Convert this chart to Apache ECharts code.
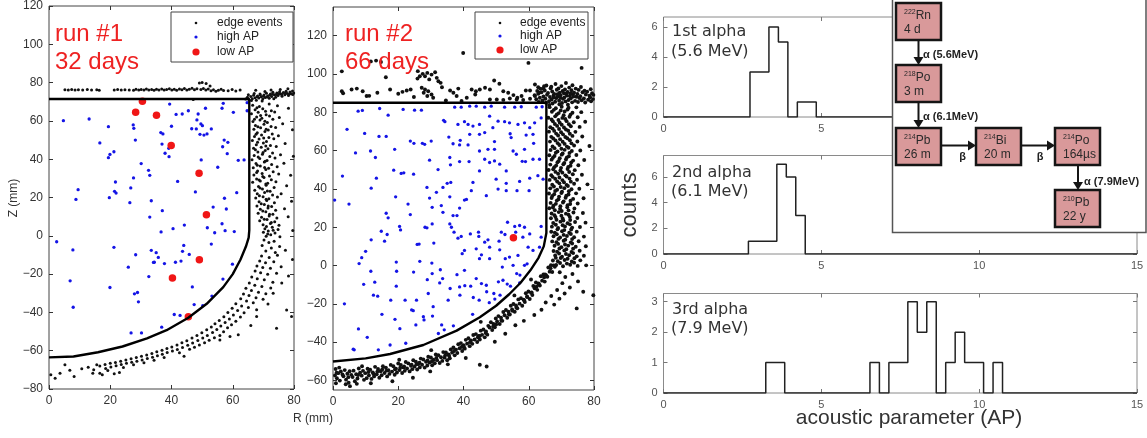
<!DOCTYPE html>
<html><head><meta charset="utf-8">
<script src="https://cdn.jsdelivr.net/npm/echarts@6/dist/echarts.min.js"></script>
<style>html,body{margin:0;padding:0;background:#fff}#c{width:1147px;height:438px}</style>
</head><body><div id="c"></div>
<script>
// ---------------- DATA ----------------
const rTicks = [0, 20, 40, 60, 80];
const z1Ticks = [-80, -60, -40, -20, 0, 20, 40, 60, 80, 100, 120];
const z2Ticks = [-60, -40, -20, 0, 20, 40, 60, 80, 100, 120];
const apTicks = [0, 5, 10, 15];
const h1Ticks = [0, 2, 4, 6];
const h2Ticks = [0, 2, 4, 6];
const h3Ticks = [0, 1, 2, 3];

// run #1 (R, Z) pairs
const edge1 = [
5.2,76.3, 6.3,76.1, 7.4,76.4, 8.5,76.2, 9.6,76.3, 11.0,76.1, 12.5,76.4, 13.9,76.2, 15.6,76.3, 16.4,76.0, 21.3,76.2, 22.4,76.4, 23.6,76.1, 24.8,76.3, 26.2,76.2, 27.6,76.0, 28.4,76.5, 29.3,76.2, 30.1,76.4, 31.0,76.1, 31.8,76.6, 32.6,76.2, 33.5,76.4, 34.3,76.0, 35.1,76.5, 35.9,76.2, 36.8,76.7, 37.6,76.1, 38.4,76.4, 39.3,76.8, 40.1,76.2, 40.9,76.5, 41.7,76.0, 42.6,76.6, 43.4,76.3, 44.2,76.9, 45.0,76.1, 45.8,76.5, 46.7,77.0, 47.5,76.3, 48.3,76.8, 49.1,79.8, 50.0,80.0, 51.3,79.5, 52.6,78.2, 49.6,76.4, 50.4,76.9, 51.2,76.2, 52.0,76.6, 52.9,75.8, 53.7,76.3, 54.5,75.5, 55.3,76.0, 56.2,76.5, 57.0,75.9, 58.5,75.7, 59.8,76.4, 61.0,75.6, 62.4,76.1, 47.1,71.2,
64.2,71.5, 64.8,72.3, 65.3,71.0, 65.9,72.8, 66.4,71.6, 66.8,73.4, 67.3,72.1, 67.7,70.8, 68.1,73.0, 68.5,71.9, 68.9,74.1, 69.3,72.6, 69.8,71.4, 70.2,73.5, 70.6,72.2, 71.0,74.4, 71.4,73.0, 71.9,71.8, 72.3,74.0, 72.7,72.8, 73.1,75.0, 73.6,73.6, 74.0,72.4, 74.4,74.6, 74.8,73.3, 75.3,75.2, 75.7,74.0, 76.1,72.9, 76.5,74.8, 77.0,73.7, 77.4,75.5, 77.8,74.3, 78.2,73.2, 78.7,75.1, 79.1,74.2, 79.5,75.6, 79.9,74.6, 65.1,73.6, 66.1,70.6, 67.0,74.3, 68.0,72.6, 69.0,73.5, 70.0,72.9, 71.2,72.5, 72.0,73.4, 73.0,73.9, 74.2,73.8, 75.0,74.2, 76.0,73.9, 77.2,74.6, 78.5,74.0, 79.6,73.8, 67.5,76.0, 70.5,75.4, 72.5,76.2, 75.5,76.4, 78.0,76.8, 69.6,70.4, 73.4,71.6,
66.5,68.2, 68.7,67.5, 71.9,68.8, 74.6,67.9, 67.3,65.8, 69.8,66.4, 72.6,65.3, 78.2,66.6, 66.1,63.7, 68.3,64.5, 70.9,63.2, 73.7,64.6, 67.8,62.1, 69.5,61.4, 72.0,62.6, 75.2,61.8, 66.6,59.7, 68.9,60.5, 71.3,59.2, 73.1,60.8, 67.4,57.6, 70.2,58.3, 72.5,57.1, 76.3,58.5, 66.9,55.7, 69.1,56.4, 71.6,55.2, 74.0,56.6, 79.5,55.4, 68.0,53.8, 70.5,54.5, 72.9,53.2, 67.1,51.9, 69.4,52.6, 71.8,51.3, 74.9,52.2, 66.4,49.8, 68.6,50.5, 71.0,49.3, 73.4,50.7, 67.7,47.6, 70.0,48.4, 72.3,47.1, 77.1,48.2, 66.8,45.7, 69.3,46.3, 71.5,45.4, 74.2,46.6, 68.2,43.8, 70.6,44.5, 73.0,43.3, 67.0,41.9, 69.7,42.6, 72.1,41.4, 75.6,42.3, 79.8,41.5, 66.3,39.7, 68.8,40.4, 71.2,39.3, 73.8,40.6, 67.6,37.8, 70.3,38.5, 72.7,37.2, 76.7,37.9, 66.7,35.6, 69.0,36.4, 71.7,35.3, 74.5,36.1, 68.1,33.9, 70.8,34.6, 73.2,33.4, 66.9,31.8, 69.6,32.5, 72.0,31.2, 75.0,32.3, 78.9,31.6, 67.8,29.7, 70.2,30.4, 72.6,29.3, 66.5,27.9, 69.0,28.6, 71.4,27.4, 74.1,28.2, 68.4,25.7, 70.9,26.4, 73.5,25.2, 77.6,26.1, 67.2,23.8, 69.7,24.5, 72.2,23.3, 68.0,21.9, 70.4,22.6, 73.0,21.3, 75.8,22.0, 67.5,19.7, 69.9,20.4, 71.8,19.3, 74.6,20.2, 68.6,17.8, 71.1,18.4, 73.6,17.2, 79.2,18.0, 67.9,15.6, 70.3,16.4, 72.7,15.3, 69.0,13.9, 71.5,14.5, 74.0,13.3, 76.9,14.1, 68.3,11.8, 70.8,12.5, 73.1,11.3, 69.4,9.7, 71.9,10.4, 74.4,9.3, 78.1,10.0, 68.8,7.9, 71.2,8.5, 73.7,7.4, 69.9,5.8, 72.3,6.4, 75.1,5.5, 70.5,3.7, 72.9,4.4, 74.8,3.3, 70.0,1.9, 71.6,2.5, 73.8,1.4, 79.6,2.8, 70.9,-0.3, 72.4,0.5, 75.4,-0.5,
67.9,66.9, 70.7,65.1, 69.1,62.8, 67.1,60.9, 70.5,59.8, 68.2,57.0, 70.9,55.6, 67.6,53.0, 70.1,51.1, 68.1,48.8, 70.8,46.9, 67.4,44.9, 69.9,43.5, 68.3,41.2, 70.6,38.9, 68.0,36.9, 70.4,35.7, 67.8,33.1, 69.8,31.0, 68.6,29.1, 70.8,27.0, 68.9,25.0, 71.3,23.4, 68.7,20.9, 70.9,19.1, 69.3,16.8, 71.6,15.5, 69.8,12.9, 72.0,11.2, 70.3,8.7, 72.6,7.0, 71.0,4.8, 73.2,2.9, 71.4,0.9,
70.2,-2.2, 71.8,-3.5, 73.5,-2.8, 69.6,-5.1, 72.6,-6.4, 75.3,-5.6, 70.8,-8.0, 73.9,-8.7, 77.2,-7.5, 69.4,-10.6, 71.9,-11.3, 74.6,-10.2, 68.8,-13.2, 70.7,-14.1, 73.4,-13.6, 79.5,-12.4, 67.9,-15.8, 69.8,-16.5, 72.3,-17.0, 75.8,-16.2, 67.3,-18.4, 69.1,-19.3, 71.4,-20.1, 74.3,-19.5, 78.2,-21.0,
66.2,-21.5, 68.0,-22.4, 70.3,-23.0, 73.1,-24.2, 76.0,-24.7, 65.4,-24.6, 67.2,-25.8, 69.5,-26.5, 72.4,-27.3, 64.3,-27.4, 66.1,-28.6, 68.4,-29.5, 70.8,-30.3, 73.2,-30.0, 63.5,-30.4, 65.3,-31.2, 67.6,-32.3, 69.9,-33.1, 62.6,-32.9, 64.5,-34.1, 66.7,-35.0, 71.5,-35.6, 77.6,-38.7, 79.2,-42.2,
61.0,-35.5, 62.9,-36.6, 65.1,-37.4, 67.8,-38.6, 59.8,-37.8, 61.6,-39.0, 63.7,-40.2, 58.4,-40.1, 60.2,-41.3, 62.5,-42.4, 67.8,-42.2, 57.1,-42.3, 58.9,-43.5, 61.0,-44.6, 55.6,-44.2, 57.5,-45.3, 59.6,-46.5, 65.9,-46.8, 54.2,-45.9, 56.1,-47.1, 58.3,-48.0, 74.3,-48.3, 53.0,-47.6, 54.8,-48.9, 57.0,-50.1, 61.8,-51.7, 59.1,-52.6,
51.5,-49.1, 53.4,-50.5, 55.8,-52.0, 49.9,-50.6, 51.7,-52.0, 54.0,-53.3, 48.3,-52.1, 50.2,-53.4, 52.3,-54.6, 55.8,-54.4, 46.7,-53.4, 48.6,-54.7, 50.8,-55.8, 45.0,-54.8, 46.9,-56.0, 49.1,-57.0, 43.4,-55.9, 45.3,-57.1, 47.5,-58.2, 41.8,-57.0, 43.6,-58.3, 45.9,-59.3, 44.1,-62.9, 40.1,-58.1, 41.9,-59.4, 38.5,-58.9, 40.3,-60.2, 42.6,-61.1,
36.9,-59.7, 38.6,-61.0, 35.2,-60.6, 37.0,-61.8, 33.6,-61.4, 35.4,-62.7, 37.6,-63.6, 31.9,-62.2, 33.8,-63.4, 30.2,-62.9, 32.1,-64.1, 34.3,-65.0, 28.5,-63.6, 30.4,-64.8, 26.8,-64.2, 28.7,-65.5, 31.0,-66.3, 25.1,-64.9, 27.0,-66.0, 23.4,-65.5, 25.3,-66.6, 27.6,-67.4, 21.7,-66.1, 23.6,-67.2,
20.0,-66.6, 21.9,-67.9, 24.3,-68.8, 18.3,-67.2, 20.2,-68.5, 23.0,-71.4, 16.6,-68.0, 18.5,-69.3, 15.6,-67.4, 16.6,-71.8, 14.3,-71.8, 12.8,-68.6, 14.6,-70.0, 17.4,-72.5, 10.7,-69.4, 8.2,-73.5, 5.2,-67.4, 3.6,-71.8, 2.0,-74.4, 0.6,-72.6, 6.8,-70.2, 19.2,-70.4, 21.3,-72.0
];
const high1 = [
39.4,68.8, 56.9,69.2, 64.7,69.5, 4.7,60.1, 13.1,61.0, 19.4,57.0, 27.5,57.9, 27.7,56.1, 28.2,50.0, 16.6,48.5, 21.2,43.9, 19.9,42.5, 19.4,40.8, 36.5,53.9, 37.2,53.2, 40.0,57.2, 41.5,63.4, 43.5,63.6, 45.5,65.3, 48.7,63.6, 51.1,66.6, 48.3,60.5, 49.6,58.4, 46.6,55.9, 48.1,55.8, 50.1,57.5, 53.0,55.8, 51.6,53.2, 49.3,53.0, 50.6,52.6, 56.5,66.6, 60.2,64.5, 64.7,65.3, 57.2,50.0, 58.4,48.8, 56.7,46.5, 58.2,42.9, 36.9,47.9, 39.1,45.7, 37.9,43.1, 39.2,41.3, 30.1,37.7, 32.5,34.2, 32.9,31.6, 49.7,39.6, 55.1,35.8, 61.8,39.4, 63.7,39.6, 42.0,28.4, 21.7,28.1, 27.6,30.2, 9.5,24.1, 21.4,23.2, 21.9,22.3, 26.7,25.0, 8.8,19.0, 19.7,19.9, 26.4,17.3, 33.4,18.3, 47.8,22.9, 57.3,19.6, 61.3,22.5, 37.0,13.1, 32.9,9.8, 53.6,15.0, 57.9,14.0, 2.5,-3.1, 7.8,-7.4, 36.6,2.0, 40.5,3.7, 44.2,5.6, 51.7,4.2, 54.1,1.6, 56.5,6.3, 57.5,2.7, 60.5,2.2, 21.2,-6.0, 28.3,-9.9, 33.4,-7.6, 35.0,-8.8, 44.0,-5.0, 43.6,-8.1, 45.8,-9.7, 53.0,-4.3,
6.9,-23.5, 7.9,-37.3, 19.9,-27.0, 25.9,-16.4, 32.6,-21.3, 27.9,-30.3, 28.9,-29.6, 29.2,-34.5, 34.1,-13.9, 34.4,-13.8, 35.7,-11.3, 37.7,-14.5, 41.3,-13.8, 43.1,-13.2, 46.8,-26.7, 47.4,-35.9, 50.2,-36.5, 56.8,-22.6, 59.9,-14.8, 53.2,-31.5, 40.9,-41.1, 42.8,-41.6, 36.8,-47.7, 26.8,-50.7, 30.2,-50.7
];
const low1 = [30.5,70.2, 28.3,64.5, 35.1,62.9, 39.9,47.1, 49.0,32.6, 51.4,11.0, 49.1,-12.5, 40.3,-22.0, 45.5,-42.3];
const fid1 = [0,-63.5, 8,-63.0, 16,-60.8, 24,-57.8, 32,-53.6, 38.4,-49.3, 45.5,-42.8, 51.5,-35.5, 56.9,-26.8, 60,-20, 62.5,-12.5, 64.3,-5.6, 65.2,-1, 65.4,3, 65.4,71.4, 0,71.4];

// run #2 (R, Z) pairs
const edge2 = [
2.7,101.4, 2.7,91.0, 3.1,90.0, 5.7,91.9, 7.3,92.4, 9.1,91.0, 10.3,88.5, 11.1,88.6, 13.6,90.2, 16.2,98.3, 17.5,91.9, 20.0,89.7, 21.3,90.7, 22.6,91.4, 23.8,91.9, 25.9,97.6, 26.6,98.8, 27.5,100.1, 28.2,98.8, 28.9,100.6, 30.2,99.7, 31.3,100.9, 31.8,98.0, 32.3,96.2, 33.0,95.4, 33.4,93.1, 27.2,92.8, 28.2,91.9, 29.2,91.0, 27.8,90.2, 30.2,89.3, 30.7,87.6, 28.9,88.5, 11.6,106.6, 13.2,107.0, 14.7,106.3, 39.9,111.0, 59.9,105.8, 76.2,103.2, 35.9,91.4, 36.9,90.2, 37.9,88.5, 39.4,85.9, 42.5,91.9, 43.8,91.0, 45.0,91.9, 46.6,92.8, 48.1,91.9, 49.4,96.6, 51.0,94.9, 52.2,91.0, 53.7,90.2, 55.3,89.0, 56.5,87.6, 57.8,88.5, 59.1,91.4, 60.4,91.4, 61.9,94.5, 62.9,93.1, 64.5,92.4, 63.2,90.2, 61.9,88.5, 48.1,86.7, 50.2,86.7, 52.2,86.5, 54.2,87.2, 56.3,86.7, 58.3,86.4, 60.4,87.1, 38.4,92.4, 41.0,87.6, 43.6,89.3, 26.0,101.5, 29.5,97.2, 24.8,88.0, 34.6,86.2,
62.3,86.8, 61.8,88.9, 62.6,91.2, 63.1,85.4, 63.4,87.6, 62.9,89.7, 63.6,92.3, 64.2,86.2, 64.5,88.3, 63.9,90.5, 64.7,93.6, 65.3,85.0, 65.1,87.1, 65.6,89.2, 64.9,91.4, 65.4,94.0, 66.2,85.8, 66.5,88.0, 65.9,90.1, 66.7,92.6, 67.3,84.6, 67.0,86.7, 67.6,88.8, 67.2,90.9, 66.9,93.4, 68.1,85.5, 68.4,87.4, 67.8,89.6, 68.6,91.8, 68.2,94.8, 69.3,86.1, 68.9,88.2, 69.5,90.3, 69.1,92.5, 70.2,84.9, 70.5,87.0, 69.8,89.0, 70.4,91.1, 70.0,93.7, 71.3,85.7, 70.9,87.8, 71.5,89.9, 71.1,92.0, 71.4,95.3, 72.2,86.4, 72.6,88.5, 71.9,90.6, 72.4,92.9, 73.3,85.2, 72.9,87.3, 73.5,89.4, 73.1,91.5, 73.4,94.1, 74.2,86.0, 74.6,88.1, 73.9,90.2, 74.4,92.4, 75.1,85.4, 75.5,87.5, 74.9,89.6, 75.3,91.7, 76.2,86.3, 75.8,88.4, 76.5,90.5, 76.0,93.2, 77.3,85.1, 76.9,87.2, 77.5,89.3, 77.1,91.3, 78.2,86.6, 78.6,88.7, 77.9,90.8, 79.1,85.8, 78.8,87.9, 79.4,90.0, 79.0,92.1, 79.7,86.9, 79.8,89.1, 67.7,87.9, 69.7,87.6, 71.7,88.7, 73.7,88.2, 68.8,89.4, 70.8,90.0, 72.8,89.8, 69.4,84.2, 72.0,84.0, 66.3,83.8,
66.4,82.7, 68.3,82.1, 70.1,82.9, 72.2,82.4, 74.6,82.6, 67.1,80.3, 69.2,79.6, 71.0,80.4, 73.4,79.8, 76.1,80.1, 66.0,77.2, 68.1,77.9, 70.3,77.1, 72.5,77.7, 75.0,77.4, 67.4,75.3, 69.5,74.6, 71.6,75.4, 73.8,74.8, 77.3,75.1, 66.6,72.2, 68.7,72.9, 70.8,72.1, 72.9,72.7, 75.6,72.4, 67.8,70.3, 69.9,69.6, 72.1,70.4, 74.3,69.8, 66.2,69.9, 66.9,67.2, 69.0,67.9, 71.2,67.1, 73.4,67.7, 76.4,67.4, 68.2,65.3, 70.4,64.6, 72.6,65.4, 74.9,64.8, 66.5,64.7, 67.3,62.2, 69.4,62.9, 71.7,62.1, 73.9,62.7, 78.6,62.4, 66.7,60.3, 68.8,59.6, 71.0,60.4, 73.2,59.8, 75.8,60.1, 67.9,57.2, 70.1,57.9, 72.3,57.1, 74.6,57.7, 66.3,57.6, 67.0,55.3, 69.2,54.6, 71.4,55.4, 73.6,54.8, 77.0,55.1, 68.4,52.2, 70.6,52.9, 72.8,52.1, 66.6,52.7, 75.2,52.4, 67.5,50.3, 69.7,49.6, 71.9,50.4, 74.1,49.8, 66.1,49.9, 66.9,47.2, 69.0,47.9, 71.2,47.1, 73.5,47.7, 76.3,47.4, 68.1,45.3, 70.3,44.6, 72.5,45.4, 74.8,44.8, 66.4,44.7, 67.2,42.2, 69.4,42.9, 71.6,42.1, 73.9,42.7, 78.0,42.4, 66.6,40.3, 68.7,39.6, 70.9,40.4, 73.1,39.8, 75.5,40.1, 67.8,37.2, 70.0,37.9, 72.2,37.1, 74.5,37.7, 66.2,37.6, 67.0,35.3, 69.1,34.6, 71.3,35.4, 73.6,34.8, 76.8,35.1, 68.3,32.2, 70.5,32.9, 72.7,32.1, 66.7,32.7, 75.0,32.4, 67.4,30.3, 69.6,29.6, 71.8,30.4, 74.0,29.8, 66.3,29.9, 67.0,27.2, 69.2,27.9, 71.4,27.1, 73.7,27.7, 76.6,27.4, 68.2,25.3, 70.4,24.6, 72.6,25.4, 74.9,24.8, 66.8,24.7, 67.5,22.2, 69.7,22.9, 71.9,22.1, 74.2,22.7, 77.4,22.4, 67.1,20.3, 69.0,19.6, 71.1,20.4, 73.3,19.8, 75.7,20.1, 68.0,17.2, 70.2,17.9, 72.4,17.1, 74.7,17.7, 66.9,17.6, 67.6,15.3, 69.6,14.6, 71.7,15.4, 73.9,14.8, 76.9,15.1, 68.5,12.2, 70.7,12.9, 72.9,12.1, 75.3,12.7, 67.2,12.6, 67.9,10.3, 70.0,9.6, 72.1,10.4, 74.4,9.8, 77.5,10.1, 68.7,7.2, 70.9,7.9, 73.1,7.1, 75.6,7.7, 67.6,7.6, 68.1,5.3, 70.2,4.6, 72.4,5.4, 74.7,4.8, 76.9,5.1, 68.9,2.2, 71.0,2.9, 73.2,2.1, 75.8,2.7, 67.4,2.6, 68.4,0.3, 70.5,-0.4, 72.7,0.4, 75.0,-0.2, 77.6,0.1,
67.7,81.3, 69.8,81.0, 71.9,81.5, 68.6,78.9, 70.7,78.5, 72.8,78.8, 67.0,76.3, 69.1,76.0, 71.2,76.5, 68.0,73.9, 70.1,73.5, 72.3,73.8, 69.3,71.3, 71.4,71.0, 67.3,71.5, 68.4,68.9, 70.5,68.5, 72.6,68.8, 67.5,66.3, 69.6,66.0, 71.8,66.5, 68.9,63.9, 71.0,63.5, 73.1,63.8, 67.9,61.3, 70.0,61.0, 72.2,61.5, 68.3,58.9, 70.4,58.5, 72.5,58.8, 67.4,56.3, 69.5,56.0, 71.7,56.5, 68.8,53.9, 70.9,53.5, 73.0,53.8, 67.8,51.3, 69.9,51.0, 72.1,51.5, 68.2,48.9, 70.3,48.5, 72.4,48.8, 67.3,46.3, 69.4,46.0, 71.6,46.5, 68.7,43.9, 70.8,43.5, 72.9,43.8, 67.7,41.3, 69.8,41.0, 72.0,41.5, 68.1,38.9, 70.2,38.5, 72.3,38.8, 67.2,36.3, 69.3,36.0, 71.5,36.5, 68.6,33.9, 70.7,33.5, 72.8,33.8, 67.6,31.3, 69.7,31.0, 71.9,31.5, 68.0,28.9, 70.1,28.5, 72.2,28.8, 67.9,26.3, 70.0,26.0, 72.2,26.5, 68.5,23.9, 70.6,23.5, 72.7,23.8, 68.3,21.3, 70.4,21.0, 72.6,21.5, 68.8,18.9, 70.9,18.5, 73.0,18.8, 68.6,16.3, 70.7,16.0, 72.9,16.5, 69.1,13.9, 71.2,13.5, 73.3,13.8, 69.0,11.3, 71.1,11.0, 73.3,11.5, 69.4,8.9, 71.5,8.5, 73.6,8.8, 69.3,6.3, 71.4,6.0, 73.6,6.5, 69.8,3.9, 71.9,3.5, 74.0,3.8, 69.6,1.3, 71.7,1.0, 73.9,1.5,
0.8,-54.0, 1.2,-58.9, 1.6,-56.2, 2.1,-60.1, 2.4,-55.3, 0.6,-57.4, 1.9,-53.3, 3.2,-57.8, 3.6,-54.6, 4.0,-59.6, 4.4,-56.5, 4.8,-61.2, 5.1,-55.2, 3.9,-62.0, 6.0,-58.2, 6.3,-54.9, 6.7,-60.4, 7.1,-56.8, 7.5,-59.0, 7.9,-53.8, 7.3,-61.8, 8.8,-57.5, 9.2,-55.0, 9.5,-59.7, 9.9,-56.2, 10.3,-58.8, 10.6,-53.9, 11.0,-57.4, 11.4,-54.4, 11.8,-59.2, 12.2,-55.8, 12.6,-57.9, 12.9,-52.9, 13.4,-56.8, 13.8,-54.0, 14.2,-58.6, 14.6,-55.2, 14.9,-57.3, 15.3,-52.6, 15.8,-56.1, 16.2,-53.3, 16.6,-57.9, 17.0,-54.7, 17.3,-56.6, 17.7,-51.9, 18.1,-55.4, 18.5,-52.6, 18.9,-57.0, 19.3,-53.9, 19.6,-55.9, 20.0,-51.2, 20.4,-54.6, 20.8,-51.9, 21.2,-56.1, 21.6,-53.2, 22.0,-55.0, 22.3,-50.4, 22.7,-53.8, 23.1,-51.1, 23.5,-55.3, 23.9,-52.3, 24.3,-54.1, 24.6,-49.5, 25.0,-52.8, 25.4,-50.2, 25.8,-54.3, 26.2,-51.4, 26.6,-53.2, 26.9,-48.6, 27.3,-51.8, 27.7,-49.1, 28.1,-53.3, 28.5,-50.3, 28.9,-52.2, 29.2,-47.6, 29.6,-50.7, 30.0,-48.0, 30.4,-52.1, 30.8,-49.2, 31.2,-51.0, 31.5,-46.5, 31.9,-49.4, 32.3,-46.8, 32.7,-50.9, 33.1,-47.9, 33.5,-49.8, 33.8,-45.2, 34.2,-48.1, 34.6,-45.4, 35.0,-49.5, 35.4,-46.5, 35.8,-48.4, 36.1,-43.8,
36.5,-45.5, 36.9,-42.8, 37.3,-46.9, 37.7,-43.9, 38.1,-45.7, 38.4,-41.1, 38.8,-43.2, 39.2,-40.5, 39.6,-44.6, 40.0,-41.6, 40.4,-43.4, 40.7,-38.8, 41.1,-40.8, 41.5,-38.0, 41.9,-42.1, 42.3,-39.1, 42.7,-40.9, 43.0,-36.3, 43.4,-38.6, 43.8,-35.8, 44.2,-39.9, 44.6,-36.8, 45.0,-38.6, 45.3,-34.0, 45.7,-36.2, 46.1,-33.4, 46.5,-37.5, 46.9,-34.4, 47.3,-36.1, 47.6,-31.5, 48.0,-32.4, 48.4,-29.6, 48.8,-33.7, 49.2,-30.5, 49.6,-32.2, 49.9,-27.6, 50.3,-29.2, 50.7,-26.4, 51.1,-30.5, 51.5,-27.3, 51.9,-28.9, 52.2,-24.3, 52.6,-26.0, 53.0,-23.2, 53.4,-27.3, 53.8,-24.1, 54.2,-25.6, 54.5,-21.0, 54.9,-22.9, 55.3,-20.1, 55.7,-24.1, 56.1,-20.9, 56.5,-22.3, 56.8,-17.7, 57.2,-19.9, 57.6,-17.1, 58.0,-21.0, 58.4,-17.8, 58.8,-19.1, 59.1,-14.5, 59.5,-16.5, 59.9,-13.6, 60.3,-17.5, 60.7,-14.2, 61.1,-15.4, 61.4,-10.7, 61.8,-11.9, 62.2,-8.9, 62.6,-12.7, 63.0,-9.3, 63.4,-10.4, 63.7,-5.6, 64.1,-7.9, 64.5,-4.7, 64.9,-8.4, 65.3,-5.0, 65.7,-5.9, 66.0,-1.0, 66.4,-3.2, 66.8,0.2, 67.2,-3.4, 67.6,0.1, 68.0,-0.7, 68.3,4.0,
69.5,-3.5, 71.2,-6.0, 73.4,-4.4, 70.3,-9.2, 72.6,-11.5, 75.1,-8.3, 68.7,-12.8, 71.0,-14.6, 74.7,-22.4, 76.7,-13.7, 79.8,-15.5, 69.4,-17.3, 66.9,-15.9, 67.8,-20.4, 65.2,-19.3, 63.9,-23.1, 61.7,-25.8, 45.0,-51.8, 47.1,-52.7, 58.5,-28.9, 55.9,-31.2, 52.8,-35.6, 49.6,-39.8, 40.7,-48.3, 35.2,-51.6, 29.8,-55.3, 24.5,-58.6, 18.2,-60.4, 11.6,-61.5, 5.2,-63.0, 0.9,-61.5, 30.1,-44.2, 20.3,-49.2, 8.9,-52.6, 45.3,-29.4, 55.6,-15.6, 60.7,-7.3,
2.9,-56.9, 5.6,-57.1, 8.3,-56.0, 10.9,-55.6, 13.6,-55.4, 16.4,-54.9, 19.0,-54.2, 21.8,-52.7, 24.1,-51.8, 26.5,-50.7, 29.0,-49.6, 31.7,-48.2, 34.4,-46.9, 37.1,-44.6, 39.5,-42.4, 42.0,-40.0, 44.4,-37.5, 46.8,-35.3, 49.1,-31.8, 51.6,-28.7, 53.9,-25.5, 56.2,-22.0, 58.6,-18.2, 60.9,-14.1, 63.1,-9.8, 65.0,-4.6, 66.7,-1.4, 1.1,-56.0, 4.7,-58.3, 7.7,-57.2, 12.4,-56.6, 15.1,-54.3, 20.6,-53.4, 25.6,-51.6, 30.3,-50.0, 35.6,-47.2, 40.2,-42.8, 45.0,-36.8, 50.0,-30.8, 55.0,-23.6, 59.5,-16.2, 62.4,-11.0, 64.7,-6.2
];
const high2 = [
4.3,71.1, 7.7,80.6, 9.0,81.0, 14.3,82.0, 16.9,78.5, 21.5,81.5, 25.0,81.1, 27.1,81.1, 9.7,69.0, 14.1,67.4, 16.3,67.4, 6.9,58.8, 11.5,59.8, 13.0,56.4, 18.9,60.7, 23.7,65.0, 24.8,63.8, 27.4,63.8, 28.1,63.3, 30.1,65.0, 29.6,55.0, 33.9,75.8, 34.3,75.1, 35.5,67.1, 36.8,63.6, 35.8,56.4, 36.0,52.6, 39.0,65.4, 38.8,63.0, 41.4,63.0, 38.8,54.3, 41.7,54.3, 38.3,73.7, 40.3,75.1, 41.4,73.7, 42.9,72.8, 44.9,73.7, 48.0,78.0, 50.6,75.4, 49.0,72.0, 46.5,69.4, 44.9,68.5, 41.9,68.5, 37.3,82.7, 39.3,82.7, 41.9,83.2, 43.9,83.2, 46.5,82.7, 48.5,83.2, 52.6,82.7, 55.7,82.7, 57.7,82.9, 62.3,82.7, 64.1,82.9, 52.6,75.1, 54.1,74.5, 56.7,73.7, 58.7,74.5, 61.8,74.5, 60.3,72.0, 63.8,77.1, 61.3,68.5, 59.2,68.1, 54.3,68.8, 54.6,66.8, 49.5,64.7, 44.9,59.8, 47.5,60.7, 49.5,60.7, 55.2,59.8, 56.2,58.1, 58.7,60.7, 61.5,63.8, 59.0,54.3, 61.3,55.5, 63.3,55.5, 58.0,54.4, 51.1,52.9, 48.0,53.8, 46.5,55.5, 49.5,54.6, 44.9,49.4, 53.1,49.4, 50.0,45.1, 53.1,42.9, 57.2,43.9, 60.3,45.6, 62.8,46.9, 64.4,45.1, 60.1,39.1, 56.4,39.1, 53.1,39.1, 50.6,39.9, 47.0,36.5, 42.9,43.4, 42.4,39.1, 40.3,34.2, 40.9,34.5, 38.8,30.0, 35.8,35.9, 35.0,42.9, 36.1,43.4, 33.7,40.8, 31.7,38.2, 30.4,30.4, 33.2,31.3, 33.7,27.8, 36.8,26.1, 38.0,26.1, 28.8,40.8, 29.6,35.2, 23.7,26.6, 23.0,32.1, 19.2,35.9, 21.7,48.4, 20.9,48.1, 18.6,49.8, 24.7,47.7, 32.2,50.1, 13.3,45.6, 11.7,40.4, 2.9,46.7, 0.5,34.2, 4.9,32.1, 16.3,27.3, 16.9,24.9, 20.4,20.4, 20.7,18.6, 14.8,17.9, 16.6,16.2, 11.7,13.4, 10.0,7.4, 8.0,1.0, 15.8,12.7, 26.4,11.2, 28.2,20.0, 28.8,19.7, 30.4,21.7, 30.9,11.7, 26.6,2.2, 19.4,1.8, 24.7,-3.4, 30.3,1.3, 32.9,-2.2, 30.4,-4.2, 35.8,21.7, 36.3,20.0, 37.1,17.4, 39.3,15.2, 38.3,14.3, 39.6,6.2, 40.3,7.9, 42.1,16.5, 44.6,17.4, 44.7,15.2, 43.9,8.7, 46.5,12.2, 47.5,13.4, 48.0,9.6, 45.5,5.6, 44.9,3.6, 48.0,3.6, 51.1,8.2, 50.9,12.7, 51.6,17.4, 52.7,16.2, 53.5,22.6, 55.7,20.4, 57.2,20.9, 58.7,20.0, 56.0,17.4, 58.2,14.8, 60.3,16.5, 63.8,20.4, 63.8,14.8, 61.3,7.9, 59.8,9.6, 63.3,9.6, 54.1,4.4, 56.7,5.3, 52.8,3.6, 51.9,-0.8, 55.2,0.1, 58.7,0.1, 59.5,0.9, 40.3,-2.5, 38.0,-4.8, 43.9,-6.8, 45.5,-9.4, 47.0,-10.3, 52.1,-7.7, 57.2,-9.1, 9.4,-9.8, 12.8,-8.7, 19.4,-10.8, 28.9,-7.4, 32.7,-9.1, 38.8,-11.2, 25.8,11.0, 8.8,4.1,
11.6,-3.0, 12.4,-15.5, 13.7,-16.0, 7.8,-33.1, 6.5,-44.0, 13.9,-44.0, 19.5,-3.0, 22.1,-18.1, 19.0,-28.1, 24.1,-23.2, 24.6,-23.6, 25.6,-18.1, 25.4,-31.0, 27.7,-26.7, 27.9,-28.4, 29.2,-14.6, 30.7,-21.5, 30.5,-26.4, 32.3,-35.5, 33.3,-31.0, 34.1,-33.6, 35.3,-18.1, 36.9,-31.5, 35.9,-12.0, 38.9,-15.5, 40.4,-10.5, 42.2,-10.8, 43.0,-16.7, 44.8,-18.1, 42.8,-25.5, 47.1,-13.7, 49.3,-14.6, 50.7,-8.5, 51.2,-15.5, 47.9,-19.4, 49.6,-17.5, 53.4,-9.7, 54.4,-10.8, 56.3,-4.2, 57.3,-5.0, 17.7,-18.1, 22.3,-40.6, 17.5,-41.5, 6.2,-43.7, 10.5,-37.5, 15.0,-25.5, 20.5,-33.0, 3.5,-20.0, 33.6,-6.8
];
const low2 = [55.3, 14.5];
const fid2 = [0,-50.1, 10,-48.5, 17.5,-46.2, 27.7,-41.5, 37.9,-34, 45,-27, 50,-21, 54,-15, 57.5,-9, 60.5,-2.5, 63,4, 64.6,10, 65.4,17, 65.4,85.0, 0,85.0];

// histograms of acoustic parameter: first bin edge, bin width, counts
const alpha1Start = 2.74, alpha1Counts = [3, 3, 6, 5, 0, 1, 1];
const alpha2Start = 2.69, alpha2Counts = [1, 1, 1, 7, 6, 3];
const alpha3Start = 3.24, alpha3Counts = [1, 1, 0, 0, 0, 0, 0, 0, 0, 0, 0, 1, 0, 1, 1, 3, 2, 3, 0, 1, 2, 1, 1, 0, 1];
const binWidth = 0.3;

// ---------------- BUILD ----------------
function pairs(a) { const o = []; for (let i = 0; i < a.length; i += 2) o.push([a[i], a[i + 1]]); return o; }
function steps(start, w, counts, xmax) {
  const p = [[0, 0], [start, 0]];
  counts.forEach((c, i) => { const a = start + i * w; p.push([a, c], [a + w, c]); });
  p.push([start + counts.length * w, 0], [xmax, 0]);
  return p;
}
const FONT = 'Liberation Sans';
const fmt = v => (v < 0 ? '\u2212' + (-v) : String(v));
const grids = [
  { left: 49, top: 6, width: 245, height: 383, borderColor: '#444' },
  { left: 333, top: 7, width: 261, height: 383, borderColor: '#444' },
  { left: 663.5, top: 17, width: 473.5, height: 100, borderColor: '#8a8a8a' },
  { left: 663.5, top: 155.5, width: 473.5, height: 98.5, borderColor: '#8a8a8a' },
  { left: 663.5, top: 293.5, width: 473.5, height: 99.5, borderColor: '#8a8a8a' }
].map(g => Object.assign({ show: true, borderWidth: 1, backgroundColor: 'transparent', containLabel: false, outerBoundsMode: 'none' }, g));

const bigLab = { fontFamily: FONT, fontSize: 12, color: '#333', margin: 6, formatter: fmt };
const smLab = { fontFamily: FONT, fontSize: 11, color: '#555', margin: 6, formatter: fmt };
function axPair(gi, min, max, ticks, isY, lab, tickColor) {
  const mk = (opp) => ({
    type: 'value', gridIndex: gi, min, max,
    position: isY ? (opp ? 'right' : 'left') : (opp ? 'top' : 'bottom'),
    axisLine: { show: false, onZero: false }, splitLine: { show: false },
    axisTick: { show: true, inside: true, length: 4, customValues: ticks, lineStyle: { color: tickColor, width: 1 } },
    axisLabel: opp ? { show: false } : Object.assign({ show: true, customValues: ticks }, lab)
  });
  return [mk(false), mk(true)];
}
const xAxis = [].concat(
  axPair(0, 0, 80, rTicks, false, bigLab, '#333'),
  axPair(1, 0, 80, rTicks, false, bigLab, '#333'),
  axPair(2, 0, 15, apTicks, false, smLab, '#777'),
  axPair(3, 0, 15, apTicks, false, smLab, '#777'),
  axPair(4, 0, 15, apTicks, false, smLab, '#777'));
const yAxis = [].concat(
  axPair(0, -80, 120, z1Ticks, true, bigLab, '#333'),
  axPair(1, -65, 135, z2Ticks, true, bigLab, '#333'),
  axPair(2, 0, 6.67, h1Ticks, true, smLab, '#777'),
  axPair(3, 0, 7.68, h2Ticks, true, smLab, '#777'),
  axPair(4, 0, 3.27, h3Ticks, true, smLab, '#777'));

const scat = (ai, data, size, color, z) => ({ type: 'scatter', xAxisIndex: ai, yAxisIndex: ai, data: pairs(data), symbolSize: size, itemStyle: { color: color, opacity: 1 }, silent: true, z: z, animation: false });
const lineS = (ai, data, color, width, z) => ({ type: 'line', xAxisIndex: ai, yAxisIndex: ai, data: data, symbol: 'none', showSymbol: false, lineStyle: { color: color, width: width }, silent: true, z: z, animation: false });
const series = [
  scat(0, edge1, 3.0, '#111', 2), scat(0, high1, 3.3, '#1414e6', 3), scat(0, low1, 7.5, '#f01616', 4), lineS(0, pairs(fid1), '#000', 2.4, 5),
  scat(2, edge2, 3.9, '#111', 2), scat(2, high2, 3.3, '#1414e6', 3), scat(2, low2, 7.5, '#f01616', 4), lineS(2, pairs(fid2), '#000', 2.4, 5),
  lineS(4, steps(alpha1Start, binWidth, alpha1Counts, 15), '#222', 1.5, 3),
  lineS(6, steps(alpha2Start, binWidth, alpha2Counts, 15), '#222', 1.5, 3),
  lineS(8, steps(alpha3Start, binWidth, alpha3Counts, 15), '#222', 1.5, 3)
];

// ---------------- GRAPHIC (annotations, legends, decay chain) ----------------
const G = [];
const txt = (x, y, s, size, color, extra) => G.push(Object.assign({ type: 'text', x: x, y: y, z: 50, silent: true,
  style: Object.assign({ text: s, fontFamily: FONT, fontSize: size, fill: color, textAlign: 'left', textVerticalAlign: 'middle' }, extra && extra.style || {}) }, extra && extra.el || {}));
txt(55, 34, 'run #1', 24, '#ee2222'); txt(55, 62, '32 days', 24, '#ee2222');
txt(345, 34, 'run #2', 24, '#ee2222'); txt(345, 62, '66 days', 24, '#ee2222');
function legend(x, y, w, h, mx, tx, rows) {
  G.push({ type: 'rect', z: 40, silent: true, shape: { x: x, y: y, width: w, height: h }, style: { fill: '#fff', stroke: '#444', lineWidth: 1 } });
  const items = [['edge events', '#111', 1.3], ['high AP', '#1414e6', 1.6], ['low AP', '#f01616', 3.6]];
  items.forEach((it, i) => {
    G.push({ type: 'circle', z: 41, silent: true, shape: { cx: mx, cy: rows[i], r: it[2] }, style: { fill: it[1] } });
    txt(tx, rows[i], it[0], 12, '#222');
  });
}
legend(171, 12, 122, 50, 196, 217, [23, 37, 52]);
legend(475, 12, 113, 47, 500, 520, [23, 36, 50]);
txt(14, 198, 'Z (mm)', 12, '#333', { el: { rotation: Math.PI / 2 }, style: { textAlign: 'center' } });
txt(313, 419, 'R (mm)', 12, '#333', { style: { textAlign: 'center' } });
txt(630, 205, 'counts', 22, '#333', { el: { rotation: Math.PI / 2 }, style: { textAlign: 'center' } });
txt(909, 418, 'acoustic parameter (AP)', 21, '#333', { style: { textAlign: 'center' } });
const HF = { style: { fontFamily: 'DejaVu Sans' } };
txt(672, 32, '1st alpha', 16, '#333', HF); txt(671, 52, '(5.6 MeV)', 16, '#333', HF);
txt(672, 173, '2nd alpha', 16, '#333', HF); txt(671, 192, '(6.1 MeV)', 16, '#333', HF);
txt(672, 310, '3rd alpha', 16, '#333', HF); txt(671, 329, '(7.9 MeV)', 16, '#333', HF);
// decay chain panel
G.push({ type: 'rect', z: 100, silent: true, shape: { x: 892.5, y: -2, width: 253.5, height: 234.5 }, style: { fill: '#fff', stroke: '#555', lineWidth: 1.5 } });
const nuclides = [
  { x: 896, y: 3, m: '222', el: 'Rn', t: '4 d' },
  { x: 896, y: 65, m: '218', el: 'Po', t: '3 m' },
  { x: 896, y: 128, m: '214', el: 'Pb', t: '26 m' },
  { x: 976, y: 128, m: '214', el: 'Bi', t: '20 m' },
  { x: 1055, y: 128, m: '214', el: 'Po', t: '164\u00b5s' },
  { x: 1055, y: 190, m: '210', el: 'Pb', t: '22 y' }
];
nuclides.forEach(b => {
  G.push({ type: 'rect', z: 101, silent: true, shape: { x: b.x, y: b.y, width: 45, height: 37 }, style: { fill: '#d9999a', stroke: '#151515', lineWidth: 2.5 } });
  G.push({ type: 'text', z: 102, silent: true, x: b.x + 8, y: b.y + 6, style: {
    text: '{s|' + b.m + '}{e|' + b.el + '}\n{e|' + b.t + '}', fontFamily: FONT, fill: '#2a2a2a', textAlign: 'left', textVerticalAlign: 'top',
    rich: { s: { fontSize: 7, verticalAlign: 'top', lineHeight: 14, fill: '#2a2a2a', fontFamily: FONT }, e: { fontSize: 12, lineHeight: 14, fill: '#2a2a2a', fontFamily: FONT } } } });
});
function arrow(x1, y1, x2, y2) {
  const dx = Math.sign(x2 - x1), dy = Math.sign(y2 - y1), L = 8, W = 5;
  G.push({ type: 'line', z: 101, silent: true, shape: { x1: x1, y1: y1, x2: x2 - dx * L, y2: y2 - dy * L }, style: { stroke: '#151515', lineWidth: 2 } });
  const bx = x2 - dx * L, by = y2 - dy * L;
  G.push({ type: 'polygon', z: 101, silent: true, shape: { points: [[bx + dy * W, by + dx * W], [bx - dy * W, by - dx * W], [x2, y2]] }, style: { fill: '#151515' } });
}
arrow(918.5, 40, 918.5, 65);
arrow(918.5, 103, 918.5, 128);
arrow(942, 145.5, 976, 145.5);
arrow(1022, 145.5, 1055, 145.5);
arrow(1078, 166, 1078, 190);
const boldLab = (x, y, s, align) => G.push({ type: 'text', z: 102, silent: true, x: x, y: y, style: { text: s, fontFamily: FONT, fontSize: 11, fontWeight: 'bold', fill: '#222', textAlign: align || 'left', textVerticalAlign: 'middle' } });
boldLab(923, 55, '\u03b1 (5.6MeV)');
boldLab(923, 117, '\u03b1 (6.1MeV)');
boldLab(1084, 181.5, '\u03b1 (7.9MeV)');
boldLab(962.5, 157, '\u03b2', 'center');
boldLab(1040, 157, '\u03b2', 'center');

const chart = echarts.init(document.getElementById('c'), null, { renderer: 'canvas' });
chart.setOption({ animation: false, backgroundColor: '#fff', grid: grids, xAxis: xAxis, yAxis: yAxis, series: series, graphic: { elements: G } });
</script></body></html>
